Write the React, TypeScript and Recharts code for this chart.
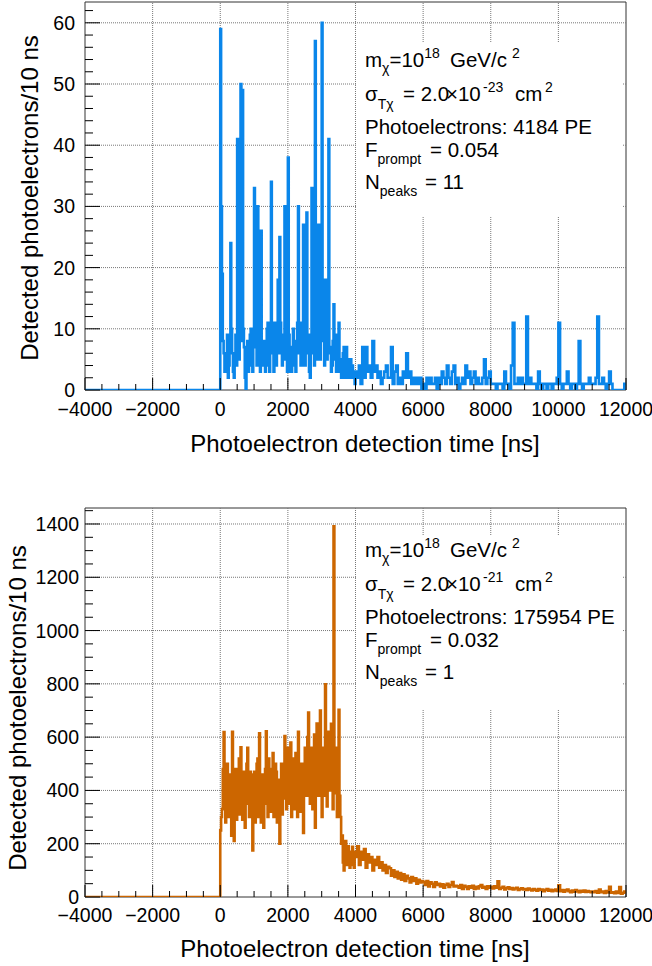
import React from "react";
import { LineChart, Line, XAxis, YAxis, ReferenceLine, ReferenceArea } from "recharts";

const FONT = '"Liberation Sans", Arial, Helvetica, sans-serif';

// histogram bins (ns): fine bins for the first 4000 ns, coarser after
const EARLY_BIN_NS = 25;
const LATE_BIN_NS = 50;
const X_MIN = -4000;
const X_MAX = 12000;
const X_MAJOR = [-4000, -2000, 0, 2000, 4000, 6000, 8000, 10000, 12000];
const X_MINOR_STEP = 500;

// upper panel: sigma = 2.0e-23 cm^2
// 0..4000 ns, 25 ns bins, one row per 1000 ns
const TOP_EARLY = [
  59, 30, 19, 8, 6, 3, 3, 5, 9, 2, 4, 7, 24, 10, 6, 3, 2, 5, 9, 4, 41, 6, 5, 12, 50, 8, 49, 10, 7, 2, 0, 4, 8, 3, 5, 9, 10, 4, 3, 7,
  33, 12, 7, 4, 30, 9, 9, 3, 26, 6, 4, 8, 8, 3, 6, 10, 11, 4, 3, 7, 34, 9, 6, 3, 11, 5, 4, 9, 18, 6, 25, 11, 7, 4, 9, 5, 30, 12, 6, 3,
  38, 9, 5, 3, 3, 7, 10, 4, 6, 3, 8, 11, 30, 6, 11, 4, 5, 9, 27, 4, 4, 8, 29, 6, 9, 3, 2, 6, 33, 10, 8, 4, 57, 12, 10, 5, 27, 8, 5, 10,
  60, 15, 8, 4, 18, 7, 5, 9, 41, 6, 7, 3, 4, 8, 14, 5, 6, 3, 9, 4, 11, 3, 5, 2, 3, 6, 7, 2, 4, 7, 3, 2, 3, 5, 5, 2, 4, 3, 3, 1,
];
// 4000..12000 ns, 50 ns bins
const TOP_LATE = [
  3, 2, 4, 1, 7, 2, 7, 3, 4, 2, 8, 3, 4, 2, 3, 1, 2, 3, 4, 2,
  2, 7, 1, 3, 4, 1, 2, 1, 3, 2, 6, 2, 3, 1, 2, 1, 2, 1, 2, 0,
  1, 0, 2, 1, 2, 1, 1, 2, 0, 2, 1, 3, 2, 1, 4, 2, 1, 3, 4, 1,
  2, 0, 1, 2, 1, 4, 2, 3, 1, 2, 3, 1, 2, 1, 1, 2, 5, 1, 2, 3,
  1, 1, 1, 0, 1, 1, 1, 0, 3, 1, 1, 0, 4, 11, 1, 1, 2, 1, 2, 1,
  1, 12, 1, 2, 1, 1, 1, 0, 3, 1, 0, 1, 1, 0, 1, 1, 0, 1, 1, 2,
  11, 1, 0, 1, 1, 3, 1, 0, 1, 1, 0, 1, 8, 1, 0, 1, 1, 1, 2, 1,
  1, 1, 2, 12, 1, 1, 2, 1, 0, 1, 3, 1, 0, 0, 0, 0, 0, 0, 0, 1,
];
const TOP_Y_MAJOR = [0, 10, 20, 30, 40, 50, 60];
const TOP_Y_MINOR_STEP = 2;
const TOP_Y_MAX = 63.4;
const TOP_INFO = { sigmaExp: "-23", pe: "4184", fprompt: "0.054", npeaks: "11" };

// lower panel: sigma = 2.0e-21 cm^2
const BOT_EARLY = [
  250, 300, 330, 480, 619, 350, 280, 420, 500, 300, 340, 450, 460, 230, 620, 380, 210, 400, 480, 290,
  330, 450, 520, 310, 562, 400, 290, 440, 470, 260, 380, 500, 560, 350, 300, 470, 460, 330, 175, 380,
  470, 280, 330, 500, 520, 300, 614, 380, 280, 460, 450, 260, 360, 480, 622, 350, 300, 520, 480, 320,
  410, 360, 540, 300, 330, 500, 470, 280, 360, 440, 200, 420, 500, 310, 370, 480, 604, 400, 330, 520,
  560, 350, 400, 580, 300, 450, 520, 330, 380, 540, 460, 300, 620, 420, 320, 500, 500, 330, 240, 460,
  560, 380, 400, 600, 692, 380, 350, 560, 540, 330, 420, 610, 260, 480, 651, 400, 380, 560, 700, 420,
  300, 480, 560, 380, 798, 450, 340, 600, 620, 400, 440, 650, 560, 330, 1391, 420, 390, 560, 300, 480,
  703, 380, 300, 200, 231, 130, 100, 180, 210, 120, 130, 190, 170, 110, 120, 160, 188, 120, 110, 170,
];
const BOT_LATE = [
  150, 190, 120, 170, 140, 180, 110, 160, 130, 150, 100, 140, 120, 150, 110, 130, 100, 120, 90, 113,
  108, 80, 100, 75, 95, 70, 90, 65, 85, 60, 80, 70, 55, 75, 60, 70, 50, 65, 55, 60,
  56, 45, 60, 40, 55, 50, 38, 55, 45, 50, 40, 48, 35, 45, 50, 38, 45, 56, 40, 42,
  40, 35, 45, 30, 42, 38, 30, 40, 35, 42, 30, 38, 32, 40, 45, 35, 38, 30, 40, 35,
  38, 32, 40, 35, 59, 30, 35, 38, 28, 33, 36, 30, 34, 28, 32, 35, 26, 30, 33, 28,
  30, 26, 32, 28, 25, 30, 27, 24, 30, 26, 28, 22, 26, 30, 24, 27, 22, 25, 28, 23,
  44, 22, 26, 20, 25, 28, 22, 18, 24, 20, 26, 22, 18, 23, 20, 24, 19, 22, 20, 18,
  20, 18, 22, 16, 28, 18, 20, 15, 22, 17, 38, 16, 18, 14, 20, 15, 37, 12, 16, 20,
];
const BOT_Y_MAJOR = [0, 200, 400, 600, 800, 1000, 1200, 1400];
const BOT_Y_MINOR_STEP = 50;
const BOT_Y_MAX = 1460;
const BOT_INFO = { sigmaExp: "-21", pe: "175954", fprompt: "0.032", npeaks: "1" };

const BLUE = "#0a86ea";
const ORANGE = "#cc6600";
const GRID = "#777";

function range(a: number, b: number, s: number) {
  const out: number[] = [];
  for (let v = a; v <= b + 1e-9; v += s) out.push(Math.round(v * 1000) / 1000);
  return out;
}

function toSeries(early: number[], late: number[]) {
  const rows = [{ t: X_MIN, n: 0 }];
  early.forEach((n, i) => rows.push({ t: i * EARLY_BIN_NS, n }));
  const start = early.length * EARLY_BIN_NS;
  late.forEach((n, i) => rows.push({ t: start + i * LATE_BIN_NS, n }));
  rows.push({ t: start + late.length * LATE_BIN_NS, n: late[late.length - 1] });
  return rows;
}

const fmt = (v: number) => (v < 0 ? "\u2212" + Math.abs(v) : String(v));

function XTick(props: any) {
  const { x, y, payload, labelDy } = props;
  const major = payload.value % 2000 === 0;
  return (
    <g>
      <line x1={x} x2={x} y1={y} y2={y - (major ? 12 : 6)} stroke="#000" strokeWidth={1} />
      {major && (
        <text x={x} y={y + labelDy} textAnchor="middle" fontSize={19.5} fontFamily={FONT} fill="#000">
          {fmt(payload.value)}
        </text>
      )}
    </g>
  );
}

function YTick(props: any) {
  const { x, y, payload, majorStep, gap } = props;
  const major = Math.abs(payload.value % majorStep) < 1e-6;
  return (
    <g>
      <line x1={x} x2={x + (major ? 15 : 8)} y1={y} y2={y} stroke="#000" strokeWidth={1} />
      {major && (
        <text x={x - gap} y={y} dy="0.36em" textAnchor="end" fontSize={19.5} fontFamily={FONT} fill="#000">
          {payload.value}
        </text>
      )}
    </g>
  );
}

function Panel(props: any) {
  const { early, late, color, yMax, yMajor, yMinorStep, height, marginTop, xAxisHeight, xLabelDy, yGap } = props;
  const data = toSeries(early, late);
  const xTicks = range(X_MIN, X_MAX, X_MINOR_STEP);
  const yTicks = range(0, yMax, yMinorStep);
  const majorStep = yMajor[1] - yMajor[0];
  return (
    <LineChart
      width={652}
      height={height}
      data={data}
      margin={{ top: marginTop, right: 26, left: 0, bottom: 0 }}
      style={{ overflow: "visible" }}
    >
      {X_MAJOR.slice(1, -1).map((v) => (
        <ReferenceLine key={"gx" + v} x={v} stroke={GRID} strokeDasharray="1 1" />
      ))}
      {yMajor.slice(1).map((v: number) => (
        <ReferenceLine key={"gy" + v} y={v} stroke={GRID} strokeDasharray="1 1" />
      ))}
      <XAxis
        dataKey="t"
        type="number"
        domain={[X_MIN, X_MAX]}
        allowDataOverflow
        ticks={xTicks}
        interval={0}
        tickSize={0}
        tickMargin={0}
        axisLine={false}
        tickLine={false}
        height={xAxisHeight}
        tick={(p: any) => <XTick {...p} labelDy={xLabelDy} />}
      />
      <YAxis
        type="number"
        domain={[0, yMax]}
        allowDataOverflow
        ticks={yTicks}
        interval={0}
        tickSize={0}
        tickMargin={0}
        axisLine={false}
        tickLine={false}
        width={85}
        tick={(p: any) => <YTick {...p} majorStep={majorStep} gap={yGap} />}
      />
      <ReferenceArea x1={X_MIN} x2={X_MAX} y1={0} y2={yMax} fill="none" stroke="#333" strokeWidth={1} />
      <Line type="stepAfter" dataKey="n" stroke={color} strokeWidth={2.6} dot={false} isAnimationActive={false} />
    </LineChart>
  );
}

function InfoText({ top, info }: { top: number[]; info: any }) {
  const [b1, b2, b3, b4, b5] = top;
  const x0 = 365;
  const small = 14;
  return (
    <g fontFamily={FONT} fontSize={20.5} fill="#000">
      <text x={x0} y={b1}>
        m<tspan dy={6} fontSize={small}>χ</tspan>
        <tspan dy={-6}>=10</tspan>
        <tspan dy={-9} fontSize={small}>18</tspan>
        <tspan x={450} dy={9}>GeV/c</tspan>
        <tspan x={512} dy={-9} fontSize={small}>2</tspan>
      </text>
      <text x={x0} y={b2}>
        σ<tspan dy={8} fontSize={small}>Tχ</tspan>
        <tspan x={403} dy={-8}>= 2.0</tspan>
        <tspan x={446}>×10</tspan>
        <tspan x={483} dy={-9} fontSize={small}>{info.sigmaExp}</tspan>
        <tspan x={515} dy={9}>cm</tspan>
        <tspan x={545} dy={-9} fontSize={small}>2</tspan>
      </text>
      <text x={x0} y={b3}>Photoelectrons: {info.pe} PE</text>
      <text x={x0} y={b4}>
        F<tspan dy={7} fontSize={small}>prompt</tspan>
        <tspan x={430} dy={-7}>= {info.fprompt}</tspan>
      </text>
      <text x={x0} y={b5}>
        N<tspan dy={7} fontSize={small}>peaks</tspan>
        <tspan x={425} dy={-7}>= {info.npeaks}</tspan>
      </text>
    </g>
  );
}

export default function App() {
  const title = "Photoelectron detection time [ns]";
  const ytitle = "Detected photoelectrons/10 ns";
  return (
    <div style={{ position: "absolute", left: 0, top: 0, width: 652, height: 966, background: "#fff", overflow: "hidden" }}>
      <div style={{ position: "absolute", left: 0, top: 0 }}>
        <Panel
          early={TOP_EARLY}
          late={TOP_LATE}
          color={BLUE}
          yMax={TOP_Y_MAX}
          yMajor={TOP_Y_MAJOR}
          yMinorStep={TOP_Y_MINOR_STEP}
          height={480}
          marginTop={2}
          xAxisHeight={90}
          xLabelDy={26}
          yGap={10}
        />
      </div>
      <div style={{ position: "absolute", left: 0, top: 480 }}>
        <Panel
          early={BOT_EARLY}
          late={BOT_LATE}
          color={ORANGE}
          yMax={BOT_Y_MAX}
          yMajor={BOT_Y_MAJOR}
          yMinorStep={BOT_Y_MINOR_STEP}
          height={486}
          marginTop={28}
          xAxisHeight={69}
          xLabelDy={25}
          yGap={6}
        />
      </div>
      <svg width={652} height={966} style={{ position: "absolute", left: 0, top: 0, pointerEvents: "none" }}>
        {/* stat boxes hide the grid */}
        <rect x={357} y={42} width={265} height={174} fill="#fff" />
        <rect x={357} y={535} width={265} height={175} fill="#fff" />
        <InfoText top={[67, 101, 134, 157, 189]} info={TOP_INFO} />
        <InfoText top={[557, 591, 624, 647, 679]} info={BOT_INFO} />
        <g fontFamily={FONT} fontSize={24} fill="#000">
          <text x={365} y={452} textAnchor="middle">{title}</text>
          <text x={355} y={957} textAnchor="middle">{title}</text>
          <text transform="translate(38,198) rotate(-90)" textAnchor="middle">{ytitle}</text>
          <text transform="translate(26,708) rotate(-90)" textAnchor="middle">{ytitle}</text>
        </g>
      </svg>
    </div>
  );
}
